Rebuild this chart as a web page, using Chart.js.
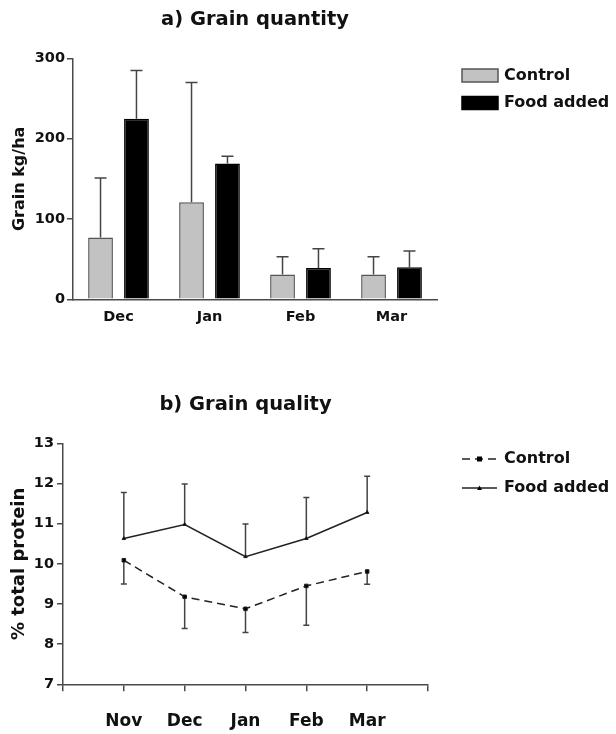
<!DOCTYPE html>
<html lang="en">
<head>
    <meta charset="UTF-8">
    <meta name="viewport" content="width=device-width, initial-scale=1.0">
    <title>Grain quantity and quality</title>
    <script src="https://cdn.jsdelivr.net/npm/chart.js"></script>
    <style>
        body { margin: 0; background: #fff; }
        canvas { position: absolute; left: 0; }
        #quantityChart { top: 0; }
        #qualityChart { top: 370px; }
    </style>
</head>
<body>
    <canvas id="quantityChart" width="616" height="340"></canvas>
    <canvas id="qualityChart" width="616" height="364"></canvas>

    <script>
        // a) grain quantity (kg/ha), mean and upper error
        const quantityMonths = ['Dec', 'Jan', 'Feb', 'Mar'];
        const quantityControl = [77, 121, 31, 31];
        const quantityControlErr = [74, 149, 22, 22];
        const quantityFood = [225, 169, 39, 40];
        const quantityFoodErr = [60, 9, 24, 20];

        // b) grain quality (% total protein)
        const qualityMonths = ['Nov', 'Dec', 'Jan', 'Feb', 'Mar'];
        const qualityControl = [10.09, 9.18, 8.88, 9.45, 9.81];
        const qualityControlErr = [0.59, 0.79, 0.59, 0.98, 0.32];
        const qualityFood = [10.63, 10.98, 10.18, 10.63, 11.28];
        const qualityFoodErr = [1.15, 1.01, 0.81, 1.02, 0.9];

        Chart.defaults.font.family = '"DejaVu Sans", sans-serif';
        Chart.defaults.font.weight = 'bold';
        Chart.defaults.color = '#111';

        const axisColor = '#4a4a4a';

        // one-sided error bars: errDir 1 = up, -1 = down
        const errorBars = {
            id: 'errorBars',
            beforeDatasetsDraw(chart) {
                const ctx = chart.ctx;
                const yScale = chart.scales.y;
                chart.data.datasets.forEach((ds, i) => {
                    const meta = chart.getDatasetMeta(i);
                    ctx.save();
                    ctx.strokeStyle = '#444';
                    ctx.lineWidth = 1.5;
                    meta.data.forEach((el, j) => {
                        const raw = ds.data[j];
                        const v = typeof raw === 'object' ? raw.y : raw;
                        const end = yScale.getPixelForValue(v + ds.errDir * ds.errors[j]);
                        const half = ds.capWidth / 2;
                        ctx.beginPath();
                        ctx.moveTo(el.x, el.y);
                        ctx.lineTo(el.x, end);
                        ctx.moveTo(el.x - half, end);
                        ctx.lineTo(el.x + half, end);
                        ctx.stroke();
                    });
                    ctx.restore();
                });
            }
        };

        // legend to the right of the plot, like the original figure
        const sideLegend = {
            id: 'sideLegend',
            afterDraw(chart, args, opts) {
                const ctx = chart.ctx;
                chart.data.datasets.forEach((ds, i) => {
                    const cy = opts.top + i * opts.rowGap;
                    const x0 = opts.left;
                    ctx.save();
                    if (opts.kind === 'box') {
                        ctx.fillStyle = ds.backgroundColor;
                        ctx.fillRect(x0, cy - 6.5, 36, 13);
                        ctx.strokeStyle = ds.borderColor;
                        ctx.lineWidth = 1.5;
                        ctx.strokeRect(x0, cy - 6.5, 36, 13);
                    } else {
                        ctx.strokeStyle = ds.borderColor;
                        ctx.lineWidth = ds.borderWidth;
                        ctx.setLineDash(ds.borderDash || []);
                        ctx.beginPath();
                        ctx.moveTo(x0, cy);
                        ctx.lineTo(x0 + 35, cy);
                        ctx.stroke();
                        ctx.setLineDash([]);
                        ctx.fillStyle = '#000';
                        const mx = x0 + 17.5;
                        if (ds.pointStyle === 'rect') {
                            ctx.fillRect(mx - 2.5, cy - 2.5, 5, 5);
                        } else {
                            ctx.beginPath();
                            ctx.moveTo(mx, cy - 2.5);
                            ctx.lineTo(mx + 2.5, cy + 2);
                            ctx.lineTo(mx - 2.5, cy + 2);
                            ctx.closePath();
                            ctx.fill();
                        }
                    }
                    ctx.fillStyle = '#111';
                    ctx.font = 'bold 16px "DejaVu Sans", sans-serif';
                    ctx.textBaseline = 'middle';
                    ctx.fillText(ds.label, x0 + 42, cy);
                    ctx.restore();
                });
            }
        };

        new Chart(document.getElementById('quantityChart'), {
            type: 'bar',
            data: {
                labels: quantityMonths,
                datasets: [{
                    label: 'Control',
                    data: quantityControl,
                    errors: quantityControlErr,
                    errDir: 1,
                    capWidth: 12,
                    backgroundColor: '#c2c2c2',
                    borderColor: '#555',
                    borderWidth: 1.5
                }, {
                    label: 'Food added',
                    data: quantityFood,
                    errors: quantityFoodErr,
                    errDir: 1,
                    capWidth: 12,
                    backgroundColor: '#000',
                    borderColor: '#000',
                    borderWidth: 1.5
                }]
            },
            options: {
                responsive: false,
                animation: false,
                datasets: {
                    bar: { categoryPercentage: 0.79, barPercentage: 0.69 }
                },
                layout: { padding: { left: 0, right: 179, top: 0, bottom: 0 } },
                plugins: {
                    legend: { display: false },
                    tooltip: { enabled: false },
                    title: {
                        display: true,
                        text: 'a) Grain quantity',
                        fullSize: false,
                        font: { size: 19.5, weight: 'bold' },
                        padding: { top: 8, bottom: 27 }
                    },
                    sideLegend: { kind: 'box', left: 462, top: 75.5, rowGap: 27.5 }
                },
                scales: {
                    x: {
                        grid: { display: false, drawTicks: false },
                        border: { display: true, color: axisColor, width: 1.5 },
                        ticks: { padding: 9, font: { size: 14.5, weight: 'bold' } },
                        afterFit: s => { s.height = 40.7; }
                    },
                    y: {
                        min: 0,
                        max: 300,
                        ticks: { stepSize: 100, padding: 2, font: { size: 14.5, weight: 'bold' } },
                        grid: { drawOnChartArea: false, drawTicks: true, tickLength: 6, color: axisColor, lineWidth: 1.5 },
                        border: { color: axisColor, width: 1.5 },
                        title: {
                            display: true,
                            text: 'Grain kg/ha',
                            font: { size: 16, weight: 'bold' },
                            padding: { top: 10, bottom: 0 }
                        },
                        afterFit: s => { s.width = 73; }
                    }
                }
            },
            plugins: [errorBars, sideLegend]
        });

        new Chart(document.getElementById('qualityChart'), {
            type: 'line',
            data: {
                datasets: [{
                    label: 'Control',
                    data: qualityControl.map((v, i) => ({ x: i + 1, y: v })),
                    errors: qualityControlErr,
                    errDir: -1,
                    capWidth: 6,
                    borderColor: '#222',
                    backgroundColor: '#000',
                    borderWidth: 1.5,
                    borderDash: [8, 5],
                    pointStyle: 'rect',
                    pointRadius: 2.5,
                    pointBorderWidth: 1
                }, {
                    label: 'Food added',
                    data: qualityFood.map((v, i) => ({ x: i + 1, y: v })),
                    errors: qualityFoodErr,
                    errDir: 1,
                    capWidth: 6,
                    borderColor: '#222',
                    backgroundColor: '#000',
                    borderWidth: 1.5,
                    pointStyle: 'triangle',
                    pointRadius: 2,
                    pointBorderWidth: 1
                }]
            },
            options: {
                responsive: false,
                animation: false,
                layout: { padding: { left: 0, right: 188, top: 0, bottom: 0 } },
                plugins: {
                    legend: { display: false },
                    tooltip: { enabled: false },
                    title: {
                        display: true,
                        text: 'b) Grain quality',
                        fullSize: false,
                        font: { size: 19.5, weight: 'bold' },
                        padding: { top: 23, bottom: 27 }
                    },
                    sideLegend: { kind: 'line', left: 462, top: 89, rowGap: 29 }
                },
                scales: {
                    x: {
                        type: 'linear',
                        min: 0,
                        max: 6,
                        ticks: {
                            stepSize: 1,
                            padding: 20,
                            font: { size: 17, weight: 'bold' },
                            callback: v => qualityMonths[v - 1] || ''
                        },
                        grid: { drawOnChartArea: false, drawTicks: true, tickLength: 7, color: axisColor, lineWidth: 1.5 },
                        border: { color: axisColor, width: 1.5 },
                        afterFit: s => { s.height = 49.7; }
                    },
                    y: {
                        min: 7,
                        max: 13,
                        ticks: { stepSize: 1, padding: 3, font: { size: 14.5, weight: 'bold' } },
                        grid: { drawOnChartArea: false, drawTicks: true, tickLength: 6, color: axisColor, lineWidth: 1.5 },
                        border: { color: axisColor, width: 1.5 },
                        title: {
                            display: true,
                            text: '% total protein',
                            font: { size: 18, weight: 'bold' },
                            padding: { top: 9, bottom: 0 }
                        },
                        afterFit: s => { s.width = 63; }
                    }
                }
            },
            plugins: [errorBars, sideLegend]
        });
    </script>
</body>
</html>
